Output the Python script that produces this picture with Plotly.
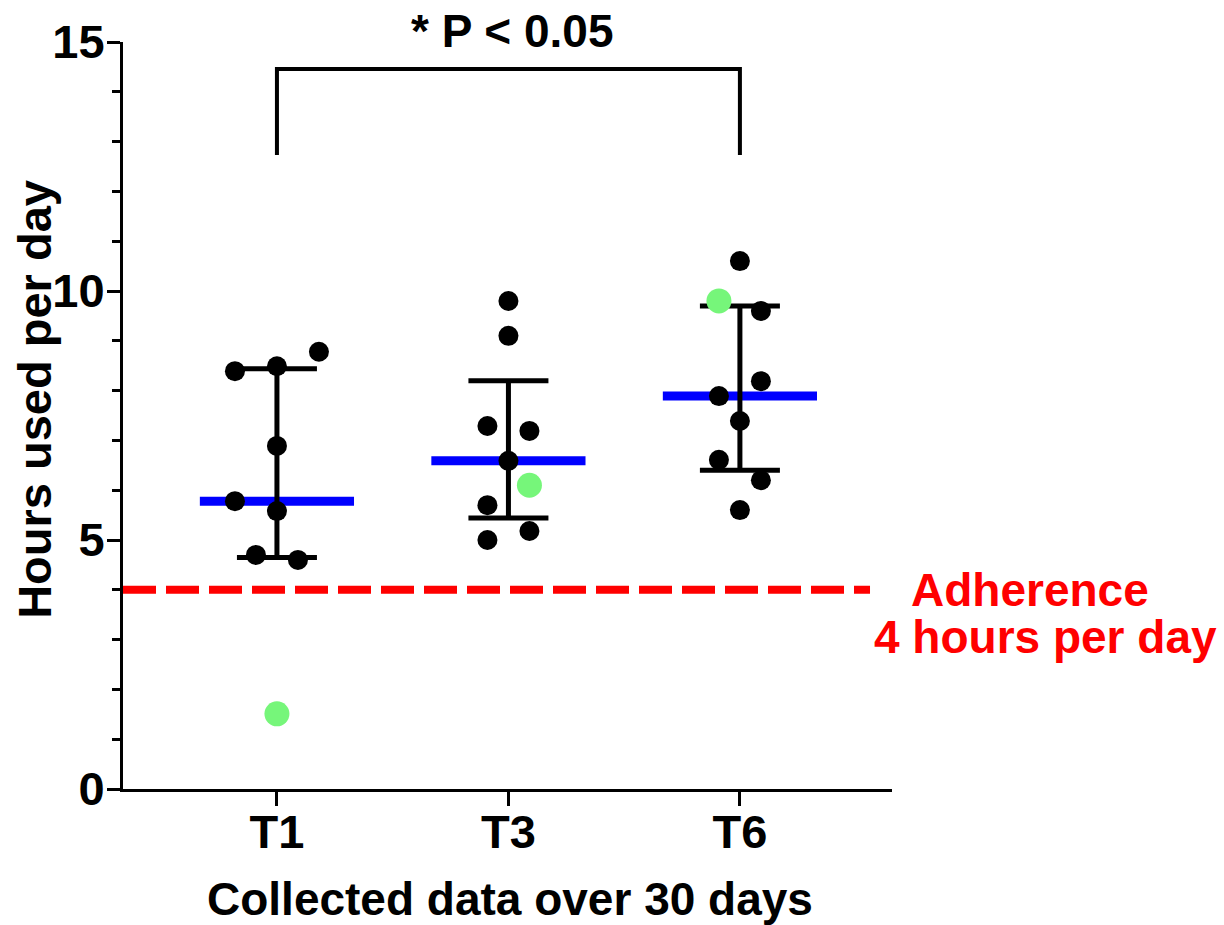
import plotly.graph_objects as go

# ---------------- data ----------------
groups = ["T1", "T3", "T6"]
t1_black = [8.78, 8.39, 8.49, 6.89, 5.78, 5.58, 4.70, 4.60]
t1_green = [1.51]
t3_black = [9.80, 9.10, 7.29, 7.19, 6.59, 5.70, 5.18, 5.00]
t3_green = [6.10]
t6_black = [10.60, 9.60, 8.19, 7.89, 7.39, 6.61, 6.20, 5.60]
t6_green = [9.80]
medians = [5.78, 6.59, 7.89]
q1 = [4.65, 5.44, 6.40]
q3 = [8.44, 8.20, 9.70]
adherence_hours = 4
bracket_low = 12.73
bracket_high = 14.46
p_text = "* P < 0.05"

# ---------------- layout helpers (scatter arrangement) ----------------
t1_black_cols = [2, -2, 0, 0, -2, 0, -1, 1]
t1_green_cols = [0]
t3_black_cols = [0, 0, -1, 1, 0, -1, 1, -1]
t3_green_cols = [1]
t6_black_cols = [0, 1, 1, -1, 0, -1, 1, 0]
t6_green_cols = [-1]
STEP = 0.0907
MED_HALF = 0.333
X_RANGE = [-0.665, 2.657]
FONT = "Liberation Sans, Arial, Helvetica, sans-serif"

black_sets = [(t1_black, t1_black_cols), (t3_black, t3_black_cols), (t6_black, t6_black_cols)]
green_sets = [(t1_green, t1_green_cols), (t3_green, t3_green_cols), (t6_green, t6_green_cols)]

fig = go.Figure()

# adherence threshold line
fig.add_trace(go.Scatter(
    x=[X_RANGE[0], 2.562], y=[adherence_hours, adherence_hours],
    mode="lines", line=dict(color="#FF0000", width=8, dash="33px,10px"),
    hoverinfo="skip", showlegend=False, cliponaxis=False))

# median lines
mx, my = [], []
for i, m in enumerate(medians):
    mx += [i - MED_HALF, i + MED_HALF, None]
    my += [m, m, None]
fig.add_trace(go.Scatter(x=mx, y=my, mode="lines",
                         line=dict(color="#0000FF", width=9),
                         hoverinfo="skip", showlegend=False))

# interquartile error bars
fig.add_trace(go.Scatter(
    x=list(range(len(groups))), y=medians, mode="markers",
    marker=dict(size=1, opacity=0),
    error_y=dict(type="data", symmetric=False,
                 array=[b - m for b, m in zip(q3, medians)],
                 arrayminus=[m - a for m, a in zip(medians, q1)],
                 color="black", thickness=5, width=40),
    hoverinfo="skip", showlegend=False))

# black points
bx, by = [], []
for i, (vals, cols) in enumerate(black_sets):
    for v, c in zip(vals, cols):
        bx.append(i + c * STEP)
        by.append(v)
fig.add_trace(go.Scatter(x=bx, y=by, mode="markers",
                         marker=dict(color="black", size=20, line=dict(width=0)),
                         showlegend=False))

# green points
gx, gy = [], []
for i, (vals, cols) in enumerate(green_sets):
    for v, c in zip(vals, cols):
        gx.append(i + c * STEP)
        gy.append(v)
fig.add_trace(go.Scatter(x=gx, y=gy, mode="markers",
                         marker=dict(color="#76F67A", size=25, line=dict(width=0)),
                         showlegend=False))

# significance bracket
fig.add_trace(go.Scatter(
    x=[0, 0, 2, 2], y=[bracket_low, bracket_high, bracket_high, bracket_low],
    mode="lines", line=dict(color="black", width=4),
    hoverinfo="skip", showlegend=False, cliponaxis=False))

fig.update_layout(
    width=1224, height=925,
    margin=dict(l=123, r=332, t=42, b=136, autoexpand=False),
    plot_bgcolor="white", paper_bgcolor="white",
    font=dict(family=FONT, color="black"),
    showlegend=False,
    xaxis=dict(
        range=X_RANGE, tickmode="array", tickvals=[0, 1, 2], ticktext=groups,
        showline=True, linecolor="black", linewidth=3,
        ticks="outside", ticklen=14, tickwidth=3, tickcolor="black",
        ticklabelstandoff=-14,
        showgrid=False, zeroline=False,
        tickfont=dict(family=FONT, size=47, color="black", weight="bold"),
    ),
    yaxis=dict(
        range=[0, 15], tickmode="array", tickvals=[0, 5, 10, 15],
        showline=True, linecolor="black", linewidth=3,
        ticks="outside", ticklen=13, tickwidth=3, tickcolor="black",
        ticklabelstandoff=-7,
        minor=dict(tickmode="array", tickvals=[1, 2, 3, 4, 6, 7, 8, 9, 11, 12, 13, 14],
                   ticks="outside", ticklen=8, tickwidth=3, tickcolor="black"),
        showgrid=False, zeroline=False,
        tickfont=dict(family=FONT, size=47, color="black", weight="bold"),
    ),
    annotations=[
        dict(text="Collected data over 30 days", xref="paper", yref="paper",
             x=0.503, y=-0.147, xanchor="center", yanchor="middle", showarrow=False,
             font=dict(family=FONT, size=46, color="black", weight="bold")),
        dict(text="Hours used per day", xref="paper", yref="paper", textangle=-90,
             x=-0.1144, y=0.521, xanchor="center", yanchor="middle", showarrow=False,
             font=dict(family=FONT, size=47, color="black", weight="bold")),
        dict(text=p_text, xref="x", yref="paper", x=1, xshift=4,
             y=(789 - 31) / 747, xanchor="center", yanchor="middle", showarrow=False,
             font=dict(family=FONT, size=46, color="black", weight="bold")),
        dict(text="Adherence", xref="paper", yref="paper",
             x=(1030 - 123) / 769, y=(789 - 590) / 747, xanchor="center", yanchor="middle",
             showarrow=False, font=dict(family=FONT, size=46, color="#FF0000", weight="bold")),
        dict(text="4 hours per day", xref="paper", yref="paper",
             x=(1045 - 123) / 769, y=(789 - 637) / 747, xanchor="center", yanchor="middle",
             showarrow=False, font=dict(family=FONT, size=46, color="#FF0000", weight="bold")),
    ],
)

fig.write_html("out.html")
